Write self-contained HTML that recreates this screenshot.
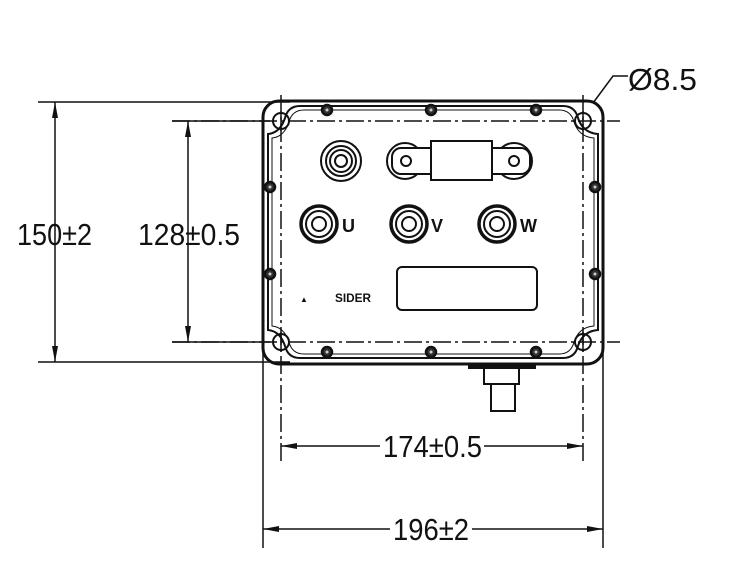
<!DOCTYPE html>
<html><head><meta charset="utf-8"><style>
html,body{margin:0;padding:0;background:#fff;width:748px;height:578px;overflow:hidden}
svg{display:block}
text{font-family:"Liberation Sans",sans-serif;fill:#111}
</style></head><body>
<svg width="748" height="578" viewBox="0 0 748 578" xmlns="http://www.w3.org/2000/svg">
<g stroke="#111" stroke-width="1.5" fill="none">
<line x1="38" y1="102" x2="290" y2="102"/>
<line x1="38" y1="362" x2="290" y2="362"/>
<line x1="172" y1="121" x2="620" y2="121" stroke-dasharray="18,4,3,4"/>
<line x1="172" y1="342" x2="620" y2="342" stroke-dasharray="18,4,3,4"/>
<line x1="172" y1="121" x2="270" y2="121"/>
<line x1="172" y1="342" x2="270" y2="342"/>
<line x1="263" y1="330" x2="263" y2="548"/>
<line x1="603" y1="330" x2="603" y2="548"/>
<line x1="281" y1="95" x2="281" y2="464" stroke-dasharray="18,4,3,4"/>
<line x1="583" y1="95" x2="583" y2="464" stroke-dasharray="18,4,3,4"/>
<line x1="55" y1="102" x2="55" y2="362"/>
<line x1="188" y1="121" x2="188" y2="342"/>
<line x1="281" y1="446" x2="583" y2="446"/>
<line x1="263" y1="529" x2="603" y2="529"/>
<polyline points="593,103 613,76 628,76"/>
</g>
<g fill="#111">
<polygon points="55,102 52,118 58,118"/><polygon points="55,362 52,346 58,346"/>
<polygon points="188,121 185,137 191,137"/><polygon points="188,342 185,326 191,326"/>
<polygon points="281,446 297,443 297,449"/><polygon points="583,446 567,443 567,449"/>
<polygon points="263,529 279,526 279,532"/><polygon points="603,529 587,526 587,532"/>
</g>
<g fill="#fff"><rect x="380" y="432" width="104" height="28"/><rect x="390" y="515" width="82" height="28"/></g>
<g font-size="31">
<text x="17" y="245" textLength="75" lengthAdjust="spacingAndGlyphs">150±2</text>
<text x="138" y="245" textLength="102" lengthAdjust="spacingAndGlyphs">128±0.5</text>
<text x="383" y="457" textLength="99" lengthAdjust="spacingAndGlyphs">174±0.5</text>
<text x="393" y="540" textLength="76" lengthAdjust="spacingAndGlyphs">196±2</text>
<text x="628" y="90" textLength="69" lengthAdjust="spacingAndGlyphs">Ø8.5</text>
</g>
<g stroke="#111" fill="none">
<rect x="263" y="101" width="340" height="263" rx="16" stroke-width="3"/>
<path d="M300,106 H563 Q575,106 578,118 Q583,133 598,134 V330 Q583,331 578,346 Q575,358 563,358 H300 Q288,358 285,346 Q280,331 268,330 V134 Q280,133 285,118 Q288,106 300,106Z" stroke-width="2"/>
<path d="M304,110 H559 Q571,110 574,122 Q579,137 594,138 V326 Q579,327 574,342 Q571,354 559,354 H304 Q292,354 289,342 Q284,327 272,326 V138 Q284,137 289,122 Q292,110 304,110Z" stroke-width="1"/>
<g stroke-width="2">
<circle cx="281" cy="121" r="8"/><circle cx="583" cy="121" r="8"/><circle cx="281" cy="342" r="8"/><circle cx="583" cy="342" r="8"/>
</g>
<g stroke-width="1.5">
<line x1="281" y1="111" x2="281" y2="131"/><line x1="583" y1="111" x2="583" y2="131"/>
<line x1="281" y1="332" x2="281" y2="352"/><line x1="583" y1="332" x2="583" y2="352"/>
</g>
<g stroke-width="2.5" fill="#333">
<circle cx="327" cy="110" r="5"/><circle cx="431" cy="110" r="5"/><circle cx="536" cy="110" r="5"/>
<circle cx="327" cy="352" r="5"/><circle cx="431" cy="352" r="5"/><circle cx="536" cy="352" r="5"/>
<circle cx="270" cy="187" r="5"/><circle cx="270" cy="274" r="5"/><circle cx="595" cy="187" r="5"/><circle cx="595" cy="274" r="5"/>
</g>
<g fill="#ccc" stroke="none">
<circle cx="327" cy="110" r="1.5"/><circle cx="431" cy="110" r="1.5"/><circle cx="536" cy="110" r="1.5"/>
<circle cx="327" cy="352" r="1.5"/><circle cx="431" cy="352" r="1.5"/><circle cx="536" cy="352" r="1.5"/>
<circle cx="270" cy="187" r="1.5"/><circle cx="270" cy="274" r="1.5"/><circle cx="595" cy="187" r="1.5"/><circle cx="595" cy="274" r="1.5"/>
</g>
<g stroke-width="2">
<circle cx="341" cy="161" r="20"/><circle cx="341" cy="161" r="15"/><circle cx="341" cy="161" r="11"/><circle cx="341" cy="161" r="6"/>
<circle cx="405" cy="161" r="18"/><circle cx="514" cy="161" r="18"/>
<rect x="392" y="148" width="138" height="26" rx="9" fill="#fff"/>
<rect x="431" y="141" width="61" height="39" fill="#fff"/>
<circle cx="406" cy="161" r="5"/><circle cx="514" cy="161" r="5"/>
<circle cx="319" cy="224" r="18" stroke-width="3.5"/><circle cx="319" cy="224" r="13"/><circle cx="319" cy="224" r="7"/>
<circle cx="409" cy="224" r="18" stroke-width="3.5"/><circle cx="409" cy="224" r="13"/><circle cx="409" cy="224" r="7"/>
<circle cx="497" cy="224" r="18" stroke-width="3.5"/><circle cx="497" cy="224" r="13"/><circle cx="497" cy="224" r="7"/>
<rect x="397" y="267" width="140" height="43" rx="5"/>
<rect x="469" y="364" width="66" height="4" fill="#111"/>
<rect x="484" y="368" width="35" height="16"/>
<rect x="491" y="384" width="24" height="27"/>
</g>
</g>
<g font-size="18" font-weight="bold">
<text x="342" y="232">U</text><text x="431" y="232">V</text><text x="520" y="232">W</text>
</g>
<text x="335" y="302" font-size="12" font-weight="bold" textLength="36" lengthAdjust="spacingAndGlyphs">SIDER</text>
<text x="300" y="302" font-size="8">▲</text>
</svg>
</body></html>
